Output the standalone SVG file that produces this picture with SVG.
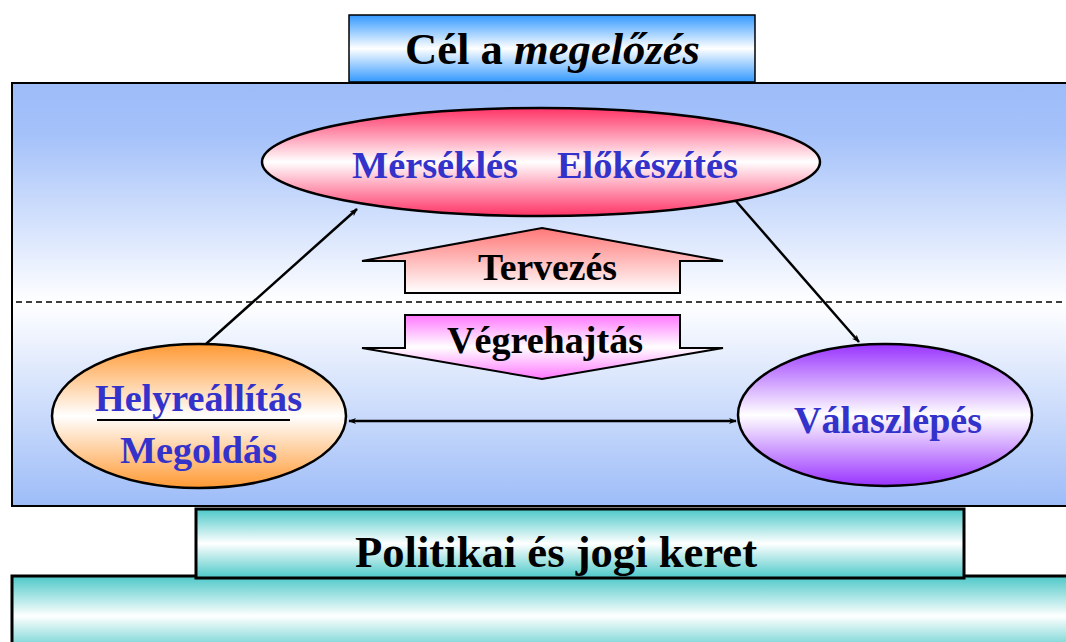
<svg xmlns="http://www.w3.org/2000/svg" width="1066" height="642" viewBox="0 0 1066 642">
<style>
.t{font-family:"Liberation Serif","Times New Roman",serif;font-weight:bold;}
.b{fill:#3333cc;font-size:37px;}
.k{fill:#000;}
.c{stroke:#000;stroke-width:2.5;fill:none;}
</style>
<defs>
<linearGradient id="gMain" x1="0" y1="0" x2="0" y2="1">
<stop offset="0" stop-color="#9dbcf8"/><stop offset="0.12" stop-color="#a4c1fa"/><stop offset="0.52" stop-color="#ffffff"/><stop offset="1" stop-color="#9dbcf8"/>
</linearGradient>
<linearGradient id="gBlue" x1="0" y1="0" x2="0" y2="1">
<stop offset="0" stop-color="#3399ff"/><stop offset="0.5" stop-color="#ffffff"/><stop offset="1" stop-color="#3399ff"/>
</linearGradient>
<linearGradient id="gTeal" x1="0" y1="0" x2="0" y2="1">
<stop offset="0" stop-color="#4cc8c8"/><stop offset="0.5" stop-color="#ffffff"/><stop offset="1" stop-color="#4cc8c8"/>
</linearGradient>
<linearGradient id="gRed" x1="0" y1="0" x2="0" y2="1">
<stop offset="0" stop-color="#ff3366"/><stop offset="0.5" stop-color="#ffffff"/><stop offset="1" stop-color="#ff3366"/>
</linearGradient>
<linearGradient id="gOrange" x1="0" y1="0" x2="0" y2="1">
<stop offset="0" stop-color="#ff9933"/><stop offset="0.5" stop-color="#ffffff"/><stop offset="1" stop-color="#ff9933"/>
</linearGradient>
<linearGradient id="gPurple" x1="0" y1="0" x2="0" y2="1">
<stop offset="0" stop-color="#9933ff"/><stop offset="0.5" stop-color="#ffffff"/><stop offset="1" stop-color="#9933ff"/>
</linearGradient>
<linearGradient id="gUp" x1="0" y1="0" x2="0" y2="1">
<stop offset="0" stop-color="#ff7777"/><stop offset="1" stop-color="#ffffff"/>
</linearGradient>
<linearGradient id="gDown" x1="0" y1="0" x2="0" y2="1">
<stop offset="0" stop-color="#ff77ff"/><stop offset="0.5" stop-color="#ffffff"/><stop offset="1" stop-color="#ff77ff"/>
</linearGradient>
<marker id="ah" viewBox="0 0 10 10" refX="9" refY="5" markerWidth="8" markerHeight="8" orient="auto-start-reverse" markerUnits="userSpaceOnUse">
<path d="M0,1 L10,5 L0,9 L3,5 Z" fill="#000"/>
</marker>
</defs>

<g id="bottom-frame">
<rect x="12" y="576" width="1070" height="80" fill="url(#gTeal)" stroke="#000" stroke-width="3"/>
</g>

<g id="main-frame">
<rect x="12" y="83" width="1070" height="423" fill="url(#gMain)" stroke="#000" stroke-width="2"/>
<line x1="16" y1="302" x2="1066" y2="302" stroke="#000" stroke-width="1.5" stroke-dasharray="6,4"/>
</g>

<g id="title">
<rect x="349" y="15" width="406" height="67" fill="url(#gBlue)" stroke="#000" stroke-width="1.5"/>
<text x="405" y="64" class="t k" font-size="44" textLength="295" lengthAdjust="spacingAndGlyphs">Cél a <tspan font-style="italic">megelőzés</tspan></text>
</g>

<g id="politikai">
<rect x="196" y="509" width="768" height="69" fill="url(#gTeal)" stroke="#000" stroke-width="3"/>
<text x="355" y="567" class="t k" font-size="45" textLength="402" lengthAdjust="spacingAndGlyphs">Politikai és jogi keret</text>
</g>

<g id="tervezes">
<path d="M542,228 L723,261 L680,261 L680,293 L405,293 L405,261 L362,261 Z" fill="url(#gUp)" stroke="#000" stroke-width="2"/>
<text x="478" y="280" class="t k" font-size="37" textLength="139" lengthAdjust="spacingAndGlyphs">Tervezés</text>
</g>

<g id="vegrehajtas">
<path d="M405,315 L680,315 L680,348 L723,348 L542,379 L362,348 L405,348 Z" fill="url(#gDown)" stroke="#000" stroke-width="2"/>
<text x="447" y="353" class="t k" font-size="37" textLength="196" lengthAdjust="spacingAndGlyphs">Végrehajtás</text>
</g>

<g id="connectors">
<line class="c" x1="206" y1="344" x2="357" y2="209" marker-end="url(#ah)"/>
<line class="c" x1="735" y1="200" x2="859" y2="342" marker-end="url(#ah)"/>
<line class="c" x1="349" y1="421" x2="736" y2="421" marker-start="url(#ah)" marker-end="url(#ah)"/>
</g>

<g id="mersekles">
<ellipse cx="541" cy="162" rx="279" ry="54" fill="url(#gRed)" stroke="#000" stroke-width="2.5"/>
<text x="352" y="178" class="t b" textLength="166" lengthAdjust="spacingAndGlyphs">Mérséklés</text>
<text x="557" y="178" class="t b" textLength="181" lengthAdjust="spacingAndGlyphs">Előkészítés</text>
</g>

<g id="helyreallitas">
<ellipse cx="199" cy="416" rx="147" ry="72" fill="url(#gOrange)" stroke="#000" stroke-width="2.5"/>
<text x="95" y="411" class="t b" textLength="207" lengthAdjust="spacingAndGlyphs">Helyreállítás</text>
<line x1="97" y1="420" x2="290" y2="420" stroke="#000" stroke-width="2"/>
<text x="120" y="463" class="t b" textLength="157" lengthAdjust="spacingAndGlyphs">Megoldás</text>
</g>

<g id="valaszlepes">
<ellipse cx="885" cy="415" rx="147" ry="71" fill="url(#gPurple)" stroke="#000" stroke-width="2.5"/>
<text x="794" y="433" class="t b" textLength="188" lengthAdjust="spacingAndGlyphs">Válaszlépés</text>
</g>
</svg>
